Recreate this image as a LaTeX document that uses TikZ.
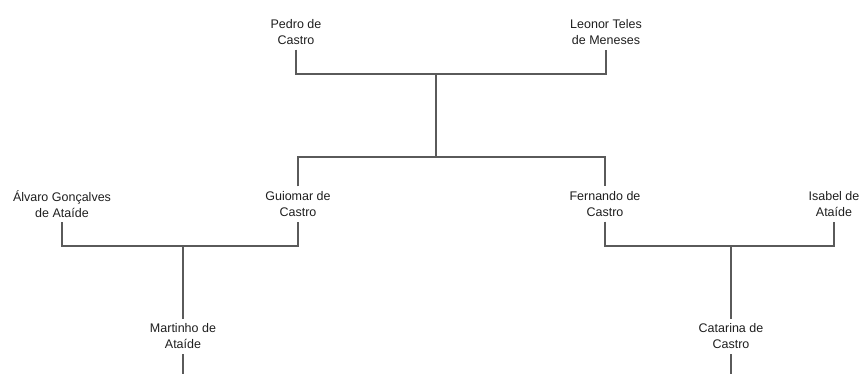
\documentclass[tikz,border=0pt]{standalone}
\usepackage{fontspec}
\setmainfont{Liberation Sans}
\definecolor{linec}{HTML}{5A5A5A}
\definecolor{textc}{HTML}{1E1E1E}
\begin{document}
\begin{tikzpicture}[x=1pt,y=1pt,
  person/.style={align=center,text=textc,inner sep=0pt,outer sep=5pt,
    font=\fontsize{12.5}{16}\selectfont},
  link/.style={draw=linec,line width=1.4pt}]
\useasboundingbox (0,0) rectangle (860,374);
% people
\node[person] (pedro) at (296,342) {Pedro de\\Castro};
\node[person] (leonor) at (606,342) {Leonor Teles\\de Meneses};
\node[person] (guiomar) at (298,170) {Guiomar de\\Castro};
\node[person] (fernando) at (605,170) {Fernando de\\Castro};
\node[person] (alvaro) at (62,170) {Álvaro Gonçalves\\de Ataíde};
\node[person] (isabel) at (834,170) {Isabel de\\Ataíde};
\node[person] (martinho) at (183,37.5) {Martinho de\\Ataíde};
\node[person] (catarina) at (731,37.5) {Catarina de\\Castro};
% junctions
\coordinate (j1) at (436,300);
\coordinate (j1b) at (436,217);
\coordinate (j2) at (183,128);
\coordinate (j3) at (731,128);
\coordinate (mEnd) at (183,0);
\coordinate (cEnd) at (731,0);
% connectors
\draw[link] (pedro.south) |- (j1) -| (leonor.south);
\draw[link] (j1) -- (j1b);
\draw[link] (guiomar.north) |- (j1b) -| (fernando.north);
\draw[link] (alvaro.south) |- (j2) -| (guiomar.south);
\draw[link] (j2) -- (martinho.north);
\draw[link] (fernando.south) |- (j3) -| (isabel.south);
\draw[link] (j3) -- (catarina.north);
\draw[link] (martinho.south) -- (mEnd);
\draw[link] (catarina.south) -- (cEnd);
\end{tikzpicture}
\end{document}
